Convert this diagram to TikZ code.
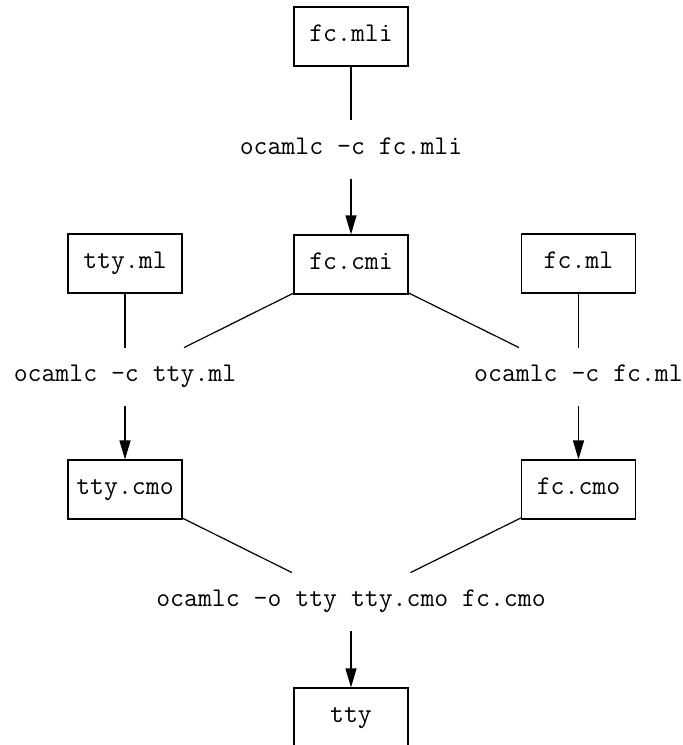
\documentclass[tikz,border=0pt]{standalone}
\usetikzlibrary{arrows.meta}
\begin{document}
\begin{tikzpicture}[x=0.5pt,y=-0.5pt,
  every node/.style={font=\ttfamily\fontsize{13.5pt}{15pt}\selectfont, inner sep=0pt, text height=1.55ex, text depth=0.45ex},
  filebox/.style={draw, line width=0.6pt, minimum width=57pt, minimum height=29.5pt},
  cmd/.style={minimum height=29pt},
  conn/.style={line width=0.6pt},
  arr/.style={line width=0.6pt, -{Triangle[length=9.5pt,width=5.5pt]}}]
\useasboundingbox (0,0) rectangle (682,745);
\node[filebox] (fcmli) at (351,36.5) {fc.mli};
\node[cmd] (fcmlicmd) at (351,149.5) {ocamlc -c fc.mli};
\node[filebox] (fccmi) at (351,264.5) {fc.cmi};
\node[filebox] (ttyml) at (125,263.5) {tty.ml};
\node[filebox] (fcml) at (578.5,263.5) {fc.ml};
\node[cmd] (ttycmd) at (125,377) {ocamlc -c tty.ml};
\node[cmd] (fccmd) at (578.5,377) {ocamlc -c fc.ml};
\node[filebox] (ttycmo) at (125,489.5) {tty.cmo};
\node[filebox] (fccmo) at (578.5,489.5) {fc.cmo};
\node[cmd] (linkcmd) at (351,602) {ocamlc -o tty tty.cmo fc.cmo};
\node[filebox] (tty) at (351,717.5) {tty};
\draw[conn] (fcmli) -- (fcmlicmd);
\draw[arr] (fcmlicmd) -- (fccmi);
\draw[conn] (ttyml) -- (ttycmd);
\draw[conn] (fccmi) -- (ttycmd);
\draw[conn] (fccmi) -- (fccmd);
\draw[conn] (fcml) -- (fccmd);
\draw[arr] (ttycmd) -- (ttycmo);
\draw[arr] (fccmd) -- (fccmo);
\draw[conn] (ttycmo) -- (linkcmd);
\draw[conn] (fccmo) -- (linkcmd);
\draw[arr] (linkcmd) -- (tty);
\end{tikzpicture}
\end{document}
